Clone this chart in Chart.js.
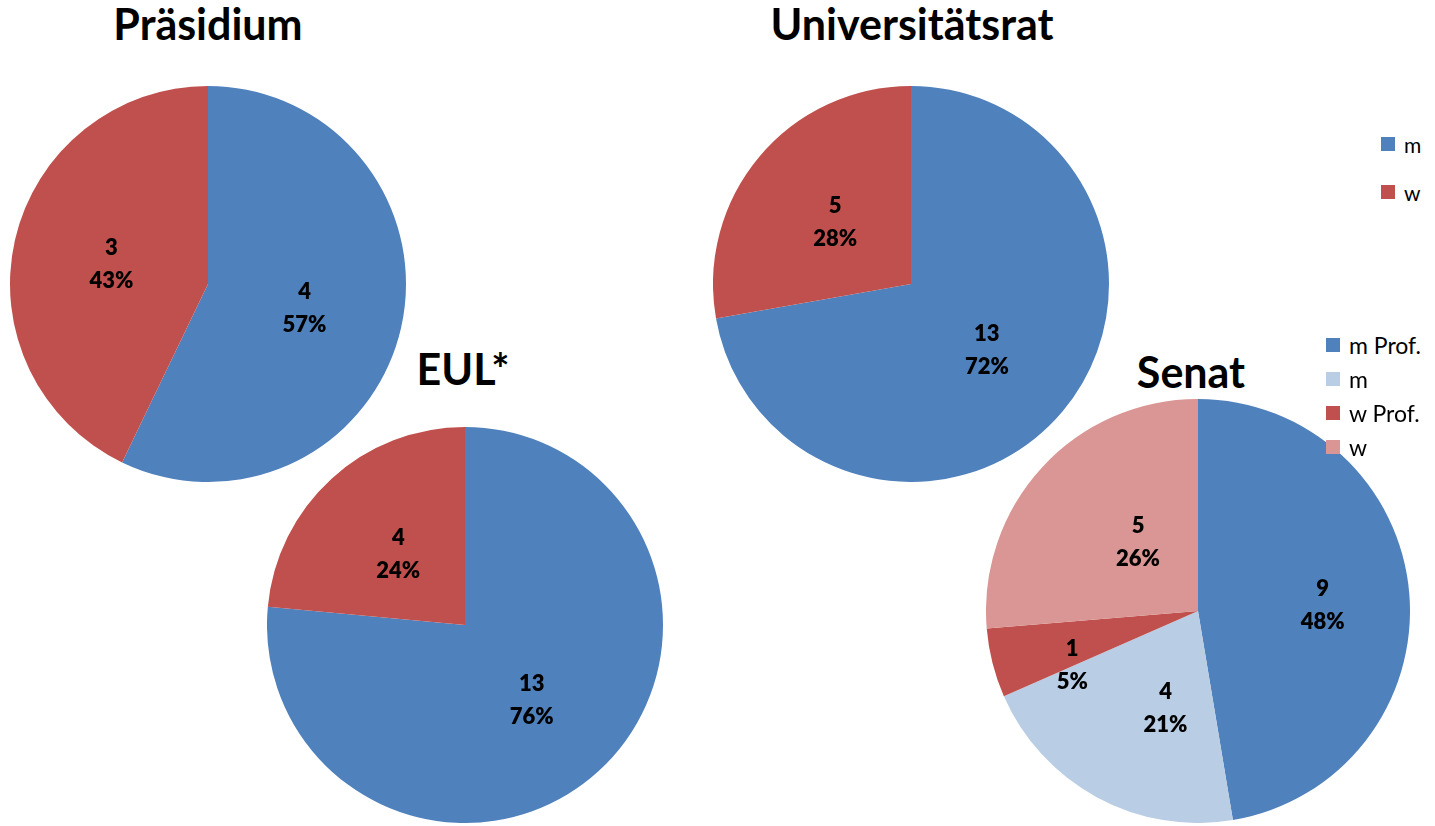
<!DOCTYPE html>
<html>
<head>
<meta charset="utf-8">
<script src="https://cdn.jsdelivr.net/npm/chart.js@4.4.1/dist/chart.umd.min.js"></script>
<style>
    body { margin: 0; background: #fff; width: 1435px; height: 826px; position: relative; overflow: hidden; font-family: Lato, "Noto Sans", sans-serif; }
    .pie { position: absolute; }
    .title { position: absolute; font-weight: bold; font-size: 43px; color: #000; transform: translateX(-50%); white-space: nowrap; }
    .legend { position: absolute; font-size: 21px; color: #000; }
    .legend div { display: flex; align-items: center; position: absolute; white-space: nowrap; height: 24px; }
    .legend span { display: inline-block; width: 14px; height: 14px; margin-right: 9px; }
</style>
</head>
<body>
<div class="title" style="left:208px; top:-2px;">Präsidium</div>
<div class="title" style="left:912px; top:-2px;">Universitätsrat</div>
<div class="title" style="left:463px; top:343px;">EUL*</div>
<div class="title" style="left:1191px; top:346px;">Senat</div>

<canvas id="praesidiumChart" class="pie" width="396" height="396" style="left:10px; top:86px;"></canvas>
<canvas id="eulChart" class="pie" width="396" height="396" style="left:267px; top:427px;"></canvas>
<canvas id="unirateChart" class="pie" width="396" height="396" style="left:713px; top:86px;"></canvas>
<canvas id="senatChart" class="pie" width="424" height="424" style="left:986px; top:399px;"></canvas>

<div class="legend" id="legend1" style="left:1381px; top:132px;"></div>
<div class="legend" id="legend2" style="left:1326px; top:333px; font-size:23px;"></div>

<script>
    // Data
    const mwLabels = ["m", "w"];
    const praesidiumData = [4, 3];
    const praesidiumPct = ["57%", "43%"];
    const eulData = [13, 4];
    const eulPct = ["76%", "24%"];
    const uniratData = [13, 5];
    const uniratPct = ["72%", "28%"];

    const senatLabels = ["m Prof.", "m", "w Prof.", "w"];
    const senatData = [9, 4, 1, 5];
    const senatPct = ["48%", "21%", "5%", "26%"];

    const mwColors = ['#4F81BD', '#C0504D'];
    const senatColors = ['#4F81BD', '#B9CDE5', '#C0504D', '#D99694'];

    // draws "value / percent" in the middle of each slice
    const sliceLabels = {
        id: 'sliceLabels',
        afterDatasetsDraw(chart, args, opts) {
            const ctx = chart.ctx;
            const meta = chart.getDatasetMeta(0);
            const values = chart.data.datasets[0].data;
            const shift = opts.shift || [];
            ctx.save();
            ctx.font = '800 22px Lato, "Noto Sans", sans-serif';
            ctx.fillStyle = '#000';
            ctx.textAlign = 'center';
            ctx.textBaseline = 'middle';
            meta.data.forEach(function(arc, i) {
                const p = arc.getProps(['x', 'y', 'startAngle', 'endAngle', 'outerRadius'], true);
                const mid = (p.startAngle + p.endAngle) / 2;
                const s = shift[i] || [0, 0];
                const x = p.x + Math.cos(mid) * p.outerRadius * 0.5 + s[0];
                const y = p.y + Math.sin(mid) * p.outerRadius * 0.5 + s[1] + 2;
                ctx.fillText(String(values[i]), x, y - 16);
                ctx.fillText(opts.pct[i], x, y + 17);
            });
            ctx.restore();
        }
    };

    function makePie(id, labels, data, colors, pct, shift) {
        const c = document.getElementById(id).getContext('2d');
        return new Chart(c, {
            type: 'pie',
            data: {
                labels: labels,
                datasets: [{
                    data: data,
                    backgroundColor: colors,
                    borderWidth: 0,
                    hoverOffset: 0
                }]
            },
            options: {
                responsive: false,
                animation: false,
                layout: { padding: 0 },
                plugins: {
                    legend: { display: false },
                    tooltip: { enabled: false },
                    sliceLabels: { pct: pct, shift: shift }
                }
            },
            plugins: [sliceLabels]
        });
    }

    makePie('praesidiumChart', mwLabels, praesidiumData, mwColors, praesidiumPct);
    makePie('eulChart', mwLabels, eulData, mwColors, eulPct);
    makePie('unirateChart', mwLabels, uniratData, mwColors, uniratPct);
    makePie('senatChart', senatLabels, senatData, senatColors, senatPct,
        [[19, 1], [18, 2], [-23, 26], [18, 1]]);

    // Legends
    function makeLegend(id, labels, colors, step) {
        const el = document.getElementById(id);
        labels.forEach(function(l, i) {
            const row = document.createElement('div');
            row.style.top = (i * step) + 'px';
            row.innerHTML = '<span style="background:' + colors[i] + '"></span>' + l;
            el.appendChild(row);
        });
    }
    makeLegend('legend1', mwLabels, mwColors, 48);
    makeLegend('legend2', senatLabels, senatColors, 34);
</script>
</body>
</html>
